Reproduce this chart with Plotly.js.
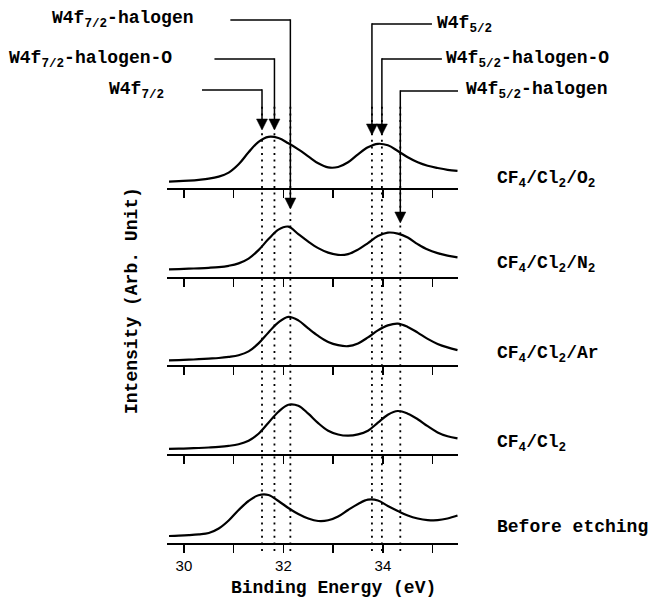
<!DOCTYPE html>
<html>
<head>
<meta charset="utf-8">
<script src="https://cdn.plot.ly/plotly-3.0.1.min.js"></script>
<style>
  html, body { margin: 0; padding: 0; background: #fff; }
  #chart { width: 648px; height: 598px; }
</style>
</head>
<body>
<div id="chart"></div>
<script>
// ---------------- DATA ----------------
const sampleNames = [
  'CF<sub>4</sub>/Cl<sub>2</sub>/O<sub>2</sub>',
  'CF<sub>4</sub>/Cl<sub>2</sub>/N<sub>2</sub>',
  'CF<sub>4</sub>/Cl<sub>2</sub>/Ar',
  'CF<sub>4</sub>/Cl<sub>2</sub>',
  'Before etching'
];

// binding energy (eV) sampling points shared by all spectra
const energy = [29.7, 29.9, 30.1, 30.3, 30.5, 30.7, 30.9, 31.1, 31.3, 31.5,
                31.7, 31.9, 32.1, 32.3, 32.5, 32.7, 32.9, 33.1, 33.3, 33.5,
                33.7, 33.9, 34.1, 34.3, 34.5, 34.7, 34.9, 35.1, 35.3, 35.5];

// intensities (arb. unit)
const intensO2 = [6.1, 6.6, 7.2, 8.0, 9.1, 11.2, 15.2, 23.5, 35.5, 46.0,
                  51.0, 49.8, 44.5, 38.5, 31.5, 24.5, 20.4, 20.8, 25.5, 33.5,
                  40.5, 44.0, 42.5, 36.8, 30.5, 25.5, 22.0, 19.8, 18.0, 16.9];
const intensN2 = [7.2, 7.5, 7.9, 8.3, 8.8, 9.5, 10.8, 13.2, 18.0, 26.5,
                  37.5, 47.0, 50.0, 42.5, 35.0, 28.5, 24.0, 21.7, 22.5, 27.0,
                  33.5, 40.5, 44.0, 43.0, 39.0, 32.5, 27.0, 23.5, 21.0, 19.3];
const intensAr = [5.0, 5.3, 5.7, 6.2, 6.8, 7.4, 8.5, 10.2, 14.0, 22.0,
                  33.0, 43.0, 48.5, 45.0, 37.0, 29.5, 23.5, 20.2, 19.2, 22.0,
                  28.0, 35.0, 40.0, 41.8, 38.5, 32.8, 26.5, 21.5, 18.0, 15.3];
const intensCl = [5.3, 5.5, 5.8, 6.2, 6.7, 7.3, 8.3, 10.0, 13.5, 20.5,
                  31.5, 42.5, 49.5, 48.5, 40.5, 31.0, 23.5, 19.7, 18.5, 19.8,
                  23.5, 31.5, 39.5, 43.2, 40.5, 35.0, 28.0, 21.8, 18.0, 15.8];
const intensBefore = [7.0, 7.3, 7.8, 8.6, 10.0, 14.5, 22.5, 33.0, 42.0, 47.8,
                      48.0, 42.0, 35.0, 29.0, 24.5, 22.0, 22.7, 26.5, 33.0, 39.0,
                      43.3, 42.5, 37.0, 32.0, 27.5, 24.5, 22.9, 22.8, 24.5, 27.5];

const peakEnergies = [31.57, 31.82, 32.14, 33.78, 33.98, 34.35];
const peakLabels = [
  'W4f<sub>7/2</sub>',
  'W4f<sub>7/2</sub>-halogen-O',
  'W4f<sub>7/2</sub>-halogen',
  'W4f<sub>5/2</sub>',
  'W4f<sub>5/2</sub>-halogen-O',
  'W4f<sub>5/2</sub>-halogen'
];

const majorTicks = [30, 32, 34];
const majorTickLabels = ['30', '32', '34'];

const xTitle = 'Binding Energy (eV)';
const yTitle = 'Intensity (Arb. Unit)';

// ---------------- LAYOUT HELPERS ----------------
const W = 648, H = 598;
const M = {l: 167, r: 190, t: 99, b: 55};
const plotW = W - M.l - M.r, plotH = H - M.t - M.b;
const px2x = px => (px - M.l) / plotW;
const px2y = py => (H - M.b - py) / plotH;

const mono = 'Liberation Mono, Courier New, monospace';
const sans = 'Liberation Sans, Arial, sans-serif';

const intens = [intensO2, intensN2, intensAr, intensCl, intensBefore];
const nPanels = intens.length;
const xRange = [29.66, 35.51];

// callout geometry (pixels): corner height, arrow tip, text anchor, side
const callout = [
  {lineY: 90, tipY: 130, textX: 166, side: -1},
  {lineY: 59, tipY: 130, textX: 174, side: -1},
  {lineY: 20, tipY: 209, textX: 196, side: -1},
  {lineY: 24, tipY: 135, textX: 435, side: 1},
  {lineY: 59, tipY: 135, textX: 444, side: 1},
  {lineY: 91, tipY: 223, textX: 464, side: 1}
];
const labelY = [179, 264, 354, 443, 527];

const traces = [];
const layout = {
  width: W, height: H,
  margin: M,
  paper_bgcolor: '#fff', plot_bgcolor: 'rgba(0,0,0,0)',
  showlegend: false,
  font: {family: mono, color: '#000', size: 18},
  shapes: [], annotations: []
};

for (let i = 0; i < nPanels; i++) {
  const sx = i === 0 ? '' : String(i + 1);
  traces.push({
    x: energy, y: intens[i],
    xaxis: 'x' + sx, yaxis: 'y' + sx,
    type: 'scatter', mode: 'lines',
    line: {color: '#000', width: 2.2, shape: 'spline', smoothing: 1},
    hoverinfo: 'skip'
  });
  const d1 = 1 - i / nPanels, d0 = 1 - (i + 1) / nPanels;
  layout['xaxis' + sx] = {
    domain: [0, 1], anchor: 'y' + sx, range: xRange,
    showgrid: false, zeroline: false,
    showline: true, linecolor: '#000', linewidth: 2,
    ticks: 'outside', ticklen: 8, tickwidth: 1.5, tickcolor: '#000',
    tickmode: 'array', tickvals: majorTicks, ticktext: majorTickLabels,
    minor: {tick0: 30, dtick: 1, ticks: 'outside', ticklen: 8, tickwidth: 1.5, tickcolor: '#000', showgrid: false},
    showticklabels: i === nPanels - 1,
    tickfont: {family: sans, size: 15, color: '#000'},
    fixedrange: true
  };
  layout['yaxis' + sx] = {
    domain: [d0, d1], anchor: 'x' + sx, range: [0, plotH / nPanels],
    showgrid: false, zeroline: false, showline: false,
    showticklabels: false, ticks: '', fixedrange: true
  };
  layout.annotations.push({
    xref: 'paper', yref: 'paper', x: px2x(495), y: px2y(labelY[i]),
    xanchor: 'left', yanchor: 'middle', showarrow: false,
    text: '<b>' + sampleNames[i] + '</b>',
    font: {family: mono, size: 18, color: '#000'}
  });
}

// dotted reference lines, callout lines and arrowheads
for (let k = 0; k < peakEnergies.length; k++) {
  const e = peakEnergies[k], c = callout[k];
  layout.shapes.push({
    type: 'line', xref: 'x', yref: 'paper',
    x0: e, x1: e, y0: px2y(551), y1: px2y(105),
    line: {color: '#000', width: 1.8, dash: '2px,4.6px'}
  });
  // horizontal leg
  layout.shapes.push({
    type: 'line', xref: 'x', yref: 'paper', xsizemode: 'pixel', xanchor: e,
    x0: c.side * 60, x1: 0, y0: px2y(c.lineY), y1: px2y(c.lineY),
    line: {color: '#000', width: 1.5}
  });
  // vertical leg
  layout.shapes.push({
    type: 'line', xref: 'x', yref: 'paper',
    x0: e, x1: e, y0: px2y(c.lineY - 0.7), y1: px2y(c.tipY - 6),
    line: {color: '#000', width: 1.5}
  });
  // arrowhead
  layout.shapes.push({
    type: 'path', xref: 'x', yref: 'paper',
    xsizemode: 'pixel', ysizemode: 'pixel', xanchor: e, yanchor: px2y(c.tipY),
    path: 'M-5.5,11L5.5,11L0,0Z',
    fillcolor: '#000', line: {color: '#000', width: 0.5}
  });
  layout.annotations.push({
    xref: 'paper', yref: 'paper', x: px2x(c.textX), y: px2y(c.lineY),
    xanchor: c.side < 0 ? 'right' : 'left', yanchor: 'middle', showarrow: false,
    text: '<b>' + peakLabels[k] + '</b>',
    font: {family: mono, size: 18, color: '#000'}
  });
}

// axis titles
layout.annotations.push({
  xref: 'paper', yref: 'paper', x: px2x(333), y: px2y(588),
  xanchor: 'center', yanchor: 'middle', showarrow: false,
  text: '<b>' + xTitle + '</b>', font: {family: mono, size: 18, color: '#000'}
});
layout.annotations.push({
  xref: 'paper', yref: 'paper', x: px2x(132), y: px2y(301),
  xanchor: 'center', yanchor: 'middle', showarrow: false, textangle: -90,
  text: '<b>' + yTitle + '</b>', font: {family: mono, size: 18, color: '#000'}
});

Plotly.newPlot('chart', traces, layout, {staticPlot: true, displayModeBar: false});
</script>
</body>
</html>
